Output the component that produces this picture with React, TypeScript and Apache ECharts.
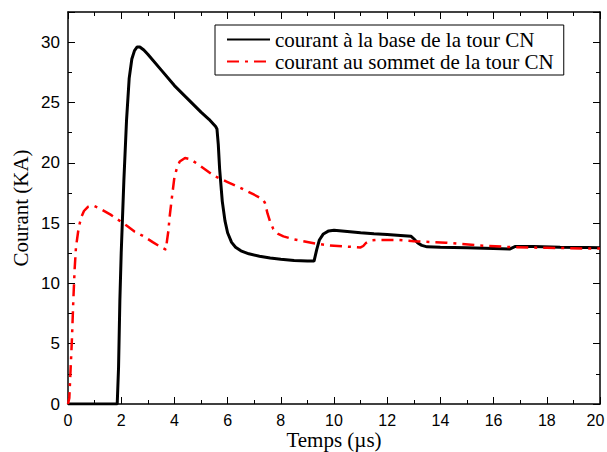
import React, { useEffect, useRef } from "react";
import * as echarts from "echarts";

const baseName = "courant à la base de la tour CN";
const topName = "courant au sommet de la tour CN";

const baseCurrent: [number, number][] = [
  [0, 0], [1.85, 0], [1.9, 3], [1.95, 8.6], [2.0, 12.5], [2.05, 15.5], [2.1, 18.5],
  [2.2, 23.5], [2.3, 27.0], [2.4, 28.6], [2.5, 29.3], [2.6, 29.6], [2.7, 29.6],
  [2.85, 29.35], [3.0, 29.0], [3.5, 27.7], [4.0, 26.4], [4.5, 25.3], [5.0, 24.2],
  [5.3, 23.6], [5.55, 23.0], [5.6, 22.8], [5.65, 21.5], [5.7, 19.5], [5.8, 16.8],
  [5.9, 15.2], [6.0, 14.2], [6.15, 13.4], [6.3, 13.0], [6.5, 12.7], [6.8, 12.45],
  [7.2, 12.25], [7.6, 12.1], [8.0, 12.0], [8.5, 11.9], [9.0, 11.85], [9.25, 11.85],
  [9.35, 12.8], [9.45, 13.6], [9.6, 14.1], [9.8, 14.35], [10.0, 14.4], [10.5, 14.3],
  [11.0, 14.2], [11.5, 14.12], [12.0, 14.05], [12.5, 13.97], [12.9, 13.9], [13.0, 13.7],
  [13.15, 13.35], [13.3, 13.15], [13.5, 13.03], [14, 13.0], [15, 12.95], [16, 12.9],
  [16.6, 12.85], [16.8, 13.05], [17.5, 13.05], [18.5, 13.0], [19.5, 12.98], [20, 12.95],
];

const topCurrent: [number, number][] = [
  [0, 0], [0.05, 0.5], [0.1, 3], [0.15, 5.5], [0.2, 8.6], [0.25, 11.2], [0.3, 13],
  [0.4, 14.6], [0.5, 15.5], [0.6, 16.0], [0.75, 16.35], [0.95, 16.45], [1.2, 16.2],
  [1.6, 15.7], [2.0, 15.1], [2.2, 14.8], [2.5, 14.3], [2.85, 13.9], [3.2, 13.4],
  [3.5, 13.0], [3.68, 12.8], [3.72, 13.5], [3.77, 14.3], [3.83, 15.7], [3.9, 17.0],
  [4.0, 18.8], [4.1, 19.6], [4.2, 20.1], [4.4, 20.4], [4.6, 20.3], [5.0, 19.7],
  [5.5, 18.9], [6.0, 18.4], [6.5, 17.9], [7.0, 17.35], [7.3, 17.0], [7.4, 16.7],
  [7.5, 15.8], [7.6, 15.1], [7.72, 14.5], [7.9, 14.1], [8.1, 13.9], [8.5, 13.65],
  [8.85, 13.5], [9.3, 13.3], [9.85, 13.14], [10.5, 13.05], [11.0, 12.98], [11.1, 13.1],
  [11.2, 13.35], [11.35, 13.55], [11.6, 13.6], [12.4, 13.6], [13, 13.5], [14.2, 13.37],
  [15.5, 13.14], [16.7, 13.0], [18, 12.95], [19.3, 12.9], [20, 12.9],
];

const xName = "Temps (µs)";
const yName = "Courant (KA)";

const sans = "Liberation Sans";
const serif = "Liberation Serif";

export default function App() {
  const ref = useRef<HTMLDivElement>(null);
  useEffect(() => {
    if (!ref.current) return;
    const chart = echarts.init(ref.current, null, { renderer: "svg" });
    const axisLine = { show: true, onZero: false, lineStyle: { color: "#000", width: 1.5 } };
    const tick = { show: true, inside: true, length: 7, lineStyle: { color: "#000", width: 1 } };
    const minor = { show: true, splitNumber: 2, length: 4, lineStyle: { color: "#000", width: 1 } };
    chart.setOption({
      animation: false,
      backgroundColor: "#fff",
      grid: { left: 68, right: 7, top: 12, bottom: 48, outerBoundsMode: "none", containLabel: false },
      legend: {
        orient: "vertical",
        left: 215,
        top: 25,
        itemWidth: 43,
        itemHeight: 14,
        itemGap: 1,
        padding: [4, 10, 3, 11],
        borderColor: "#000",
        borderWidth: 1,
        itemStyle: { opacity: 0 },
        textStyle: { fontFamily: serif, fontSize: 21, lineHeight: 21, color: "#000" },
        data: [baseName, topName],
      },
      xAxis: [
        {
          type: "value", min: 0, max: 20, interval: 2, position: "bottom",
          name: xName, nameLocation: "middle", nameGap: 25, nameMoveOverlap: false,
          nameTextStyle: { fontFamily: serif, fontSize: 21, color: "#000" },
          axisLine, axisTick: tick, minorTick: minor,
          axisLabel: {
            fontFamily: sans, fontSize: 16, lineHeight: 16, color: "#000", margin: 8,
            formatter: (v: number) => (v === 20 ? "{e|20}" : String(v)),
            rich: { e: { fontFamily: sans, fontSize: 16, lineHeight: 16, color: "#000", padding: [0, 9, 0, 0] } },
          },
          splitLine: { show: false },
        },
        {
          type: "value", min: 0, max: 20, interval: 2, position: "top",
          axisLine, axisTick: tick, minorTick: minor,
          axisLabel: { show: false }, splitLine: { show: false },
        },
      ],
      yAxis: [
        {
          type: "value", min: 0, max: 32.5, interval: 5, position: "left",
          name: yName, nameLocation: "middle", nameGap: 37, nameMoveOverlap: false,
          nameTextStyle: { fontFamily: serif, fontSize: 21, color: "#000" },
          axisLine, axisTick: tick, minorTick: minor,
          axisLabel: {
            fontFamily: sans, fontSize: 17, color: "#000", margin: 8,
            formatter: (v: number) => (v % 5 === 0 ? String(v) : ""),
          },
          splitLine: { show: false },
        },
        {
          type: "value", min: 0, max: 32.5, interval: 5, position: "right",
          axisLine, axisTick: tick, minorTick: minor,
          axisLabel: { show: false }, splitLine: { show: false },
        },
      ],
      series: [
        {
          name: baseName, type: "line", data: baseCurrent, showSymbol: false, symbol: "none",
          lineStyle: { color: "#000", width: 3 }, itemStyle: { color: "#000" },
        },
        {
          name: topName, type: "line", data: topCurrent, showSymbol: false, symbol: "none",
          lineStyle: { color: "#ff0000", width: 2.5, type: [12, 6, 3, 6] },
          itemStyle: { color: "#ff0000" },
        },
      ],
    });
    return () => chart.dispose();
  }, []);
  return (
    <div
      ref={ref}
      style={{ position: "fixed", left: 0, top: 0, width: 607, height: 452, background: "#fff" }}
    />
  );
}
